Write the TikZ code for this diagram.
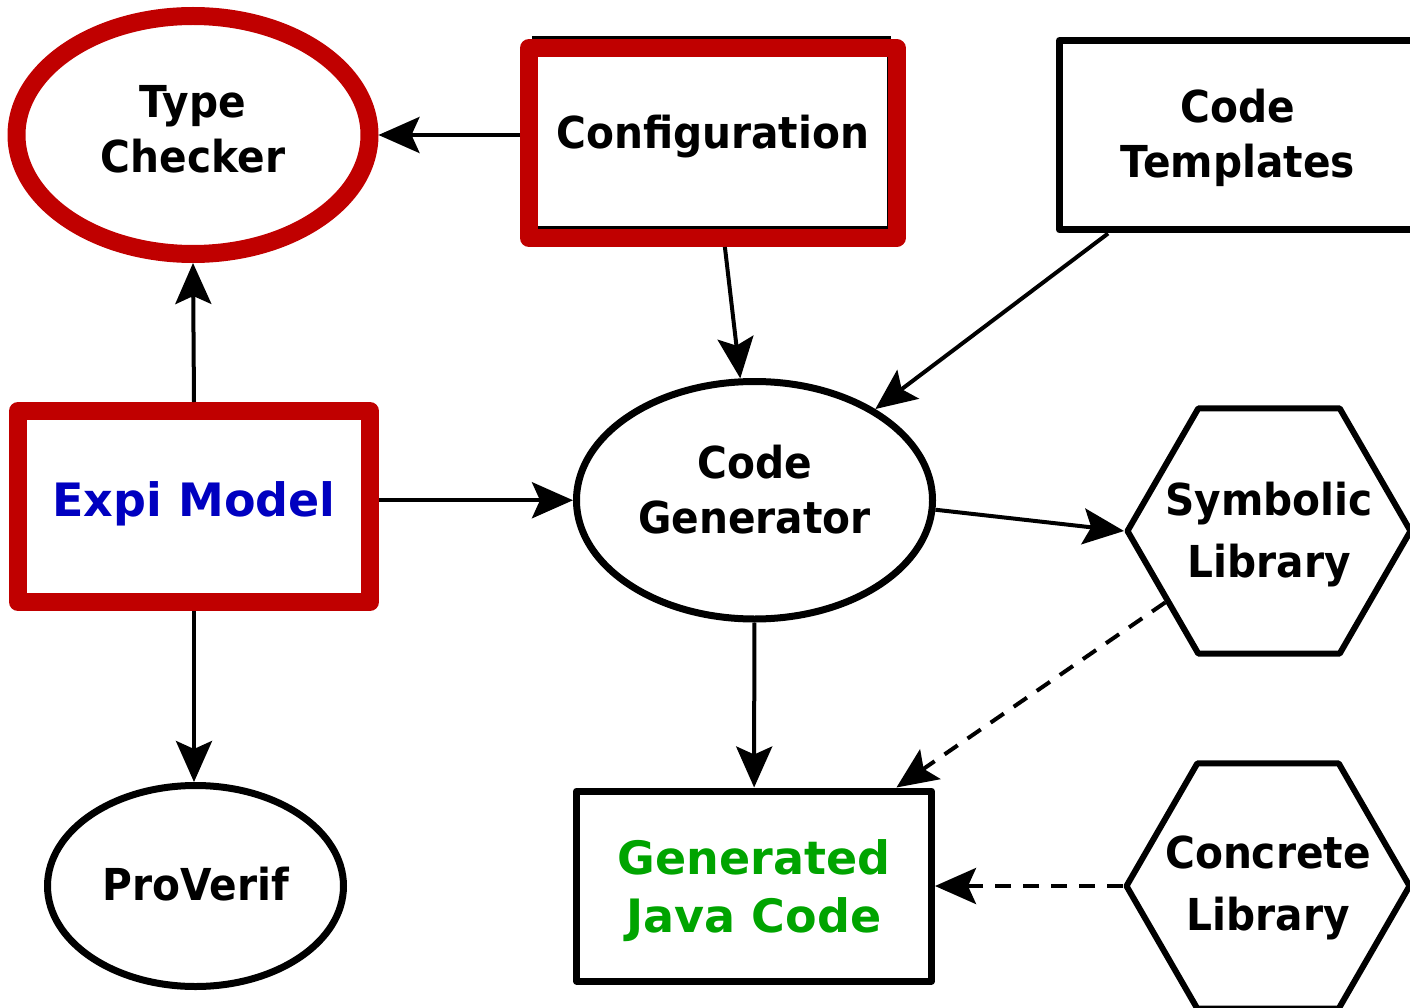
\documentclass[tikz,border=0pt]{standalone}
\usepackage{fontspec}
\setmainfont{DejaVu Sans}[FakeStretch=0.925]
\newfontfamily\colfont{DejaVu Sans}
\usetikzlibrary{arrows.meta,shapes.geometric}

\definecolor{boxred}{HTML}{C00000}
\definecolor{expiblue}{HTML}{0000C0}
\definecolor{javagreen}{HTML}{00A400}

% two centred lines at a given size and line pitch;
% the box baseline is the baseline of the second line
\newcommand\twolinesat[4]{{\fontsize{#1}{#2}\selectfont\begin{tabular}[b]{@{}c@{}}#3\\#4\end{tabular}}}
\newcommand\twolines[3]{\twolinesat{44}{#1}{#2}{#3}}
% text of zero size, second baseline #1 below the node centre
\newcommand\hextext[2]{\raisebox{-#1}[0pt][0pt]{\makebox[0pt]{#2}}}

\tikzset{
  base/.style={inner sep=0pt, outer sep=auto, font=\bfseries\fontsize{44}{55}\selectfont},
  colbase/.style={base, font=\colfont\bfseries\fontsize{46}{58}\selectfont},
  redline/.style={draw=boxred, line width=18pt, line join=round},
  blkline/.style={draw=black, line width=7pt, line join=round},
  hexline/.style={draw=black, line width=6pt, line join=round,
                  regular polygon, regular polygon sides=6, minimum size=283pt},
  conn/.style={line width=4pt, -{Stealth[length=41pt,width=36pt,inset=8pt]}},
  dashconn/.style={conn, dash pattern=on 16pt off 12pt},
}

\begin{document}
\begin{tikzpicture}[x=1pt, y=-1pt]
\useasboundingbox (0,0) rectangle (1410,1008);
\clip (0,0) rectangle (1410,1008);

% thin black frame lying under the configuration box
\node[rectangle, draw=black, line width=3.5pt, inner sep=0pt,
      minimum width=355pt, minimum height=190pt] (confback) at (711.5,133) {};

% nodes
\node[base, redline, ellipse, minimum width=353pt, minimum height=238pt,
      text height=80pt, text depth=4pt] (tc) at (193,135)
      {\twolines{55}{Type}{Checker}};

\node[base, redline, rectangle, minimum width=367.5pt, minimum height=190pt,
      text height=24pt, text depth=12pt] (conf) at (712.75,143) {Configuration};

\node[base, blkline, rectangle, minimum width=357pt, minimum height=189.5pt,
      text height=88pt, text depth=4pt] (ct) at (1238,135.25)
      {\twolines{55}{Code}{Templates}};

\node[colbase, redline, rectangle, minimum width=352pt, minimum height=191pt,
      text height=27pt, text depth=8pt, text=expiblue] (expi) at (194,506.5) {Expi Model};

\node[base, blkline, ellipse, minimum width=356pt, minimum height=237.5pt,
      text height=70pt, text depth=4pt] (gen) at (754.5,500.25)
      {\twolines{55}{Code}{Generator}};

\node[base, hexline] (sym) at (1269,531)
      {\hextext{46pt}{\twolines{62}{Symbolic}{Library}}};

\node[base, hexline] (conc) at (1268,886)
      {\hextext{44pt}{\twolines{62}{Concrete}{Library}}};

\node[colbase, blkline, rectangle, minimum width=355pt, minimum height=190pt,
      text height=97pt, text depth=4pt, text=javagreen] (java) at (754,886)
      {\twolinesat{46}{58}{Generated}{Java Code}};

\node[base, blkline, ellipse, minimum width=296pt, minimum height=201pt,
      text height=32pt, text depth=4pt] (pv) at (195.5,886) {ProVerif};

% connectors
\draw[conn] (conf.west |- tc.east) -- (tc.east);
\draw[conn] (expi.north) -- (tc.south);
\draw[conn] (expi.east |- gen.west) -- (gen.west);
\draw[conn] (expi.south) -- (expi.south |- pv.north);
\draw[conn] (conf) -- (gen);
\draw[conn] (ct) -- (gen);
\draw[conn] (gen.-3) -- (sym.180);
\draw[conn] (gen) -- (java);
\draw[dashconn] (sym) -- (java);
\draw[dashconn] (conc) -- (java);
\end{tikzpicture}
\end{document}
